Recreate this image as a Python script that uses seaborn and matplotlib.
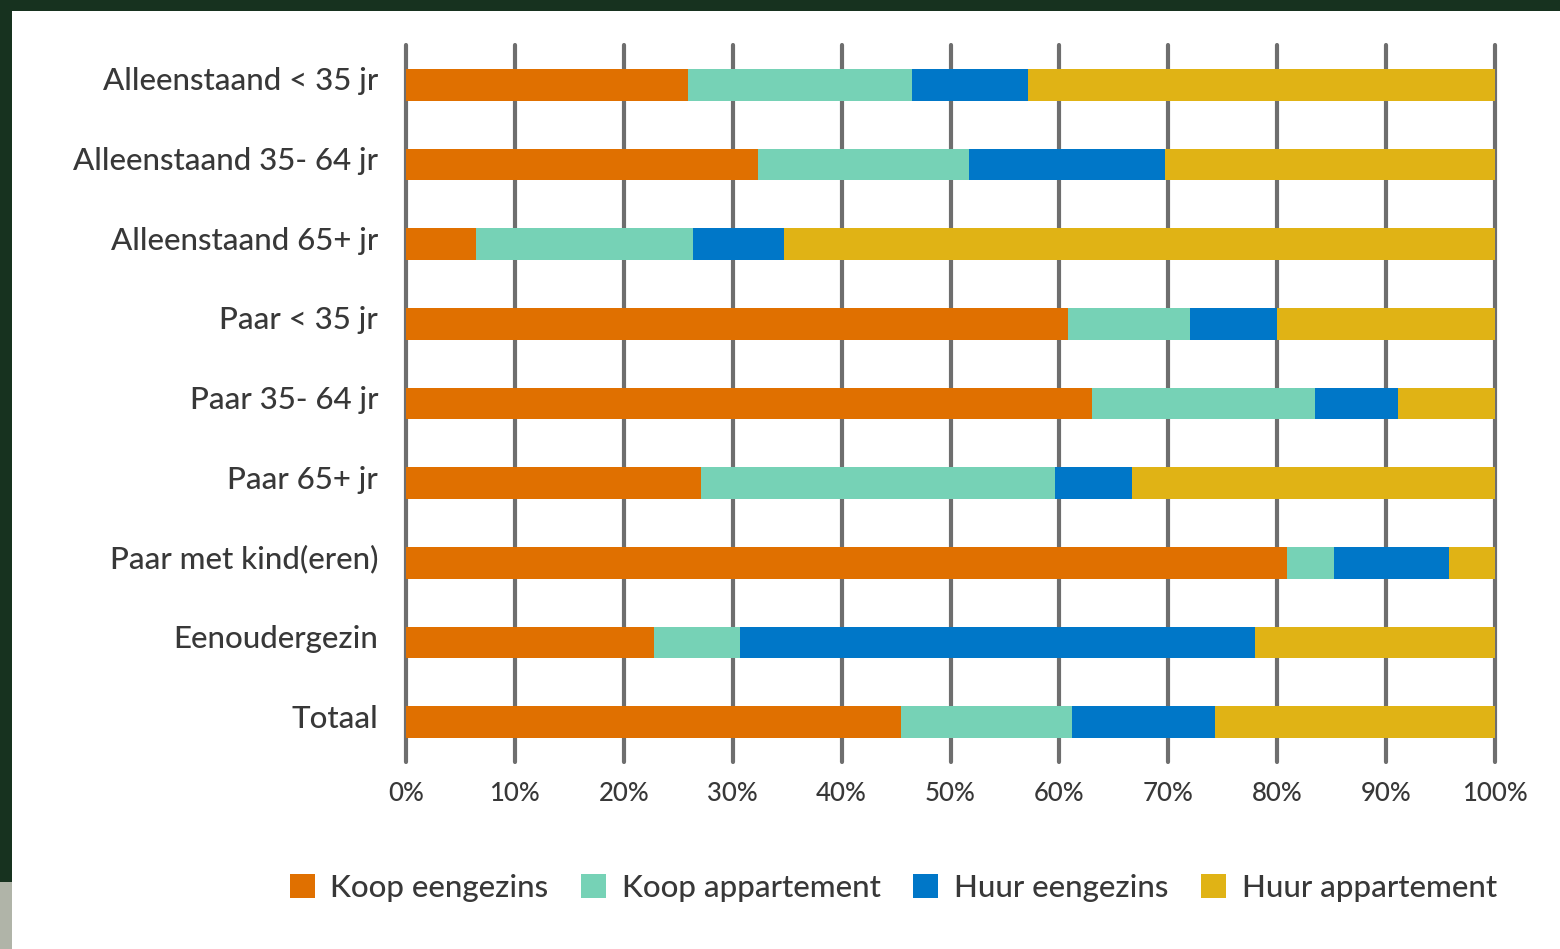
import pandas as pd
import numpy as np
import seaborn as sns
import matplotlib.pyplot as plt
from matplotlib.patches import Rectangle, Patch
from matplotlib.transforms import ScaledTranslation

# Data (shares in %)
categories = ["Alleenstaand < 35 jr", "Alleenstaand 35- 64 jr", "Alleenstaand 65+ jr",
              "Paar < 35 jr", "Paar 35- 64 jr", "Paar 65+ jr",
              "Paar met kind(eren)", "Eenoudergezin", "Totaal"]
koop_eengezins = [25.9, 32.3, 6.4, 60.8, 63.0, 27.1, 80.9, 22.8, 45.5]
koop_appartement = [20.6, 19.4, 20.0, 11.2, 20.5, 32.5, 4.3, 7.9, 15.7]
huur_eengezins = [10.6, 18.0, 8.3, 8.0, 7.6, 7.1, 10.6, 47.3, 13.1]
huur_appartement = [42.9, 30.3, 65.3, 20.0, 8.9, 33.3, 4.2, 22.0, 25.7]
series = ["Koop eengezins", "Koop appartement", "Huur eengezins", "Huur appartement"]
colors = ["#e07000", "#76d2b6", "#0077c8", "#e0b315"]
xticks = [0, 10, 20, 30, 40, 50, 60, 70, 80, 90, 100]

df = pd.DataFrame({"cat": categories,
                   series[0]: koop_eengezins, series[1]: koop_appartement,
                   series[2]: huur_eengezins, series[3]: huur_appartement})
cum = df[series].cumsum(axis=1)

text_col = "#383838"
sns.set_theme(style="white")
plt.rcParams["font.family"] = ["Lato", "DejaVu Sans"]

W, H = 1560, 949
fig = plt.figure(figsize=(W / 100, H / 100), dpi=100, facecolor="white")
ax = fig.add_axes([406 / W, 1 - 762 / H, (1495 - 406) / W, (762 - 45) / H])

# stacked bars: draw cumulative totals from the back to the front
for s, c in reversed(list(zip(series, colors))):
    sns.barplot(x=cum[s], y=df["cat"], orient="h", color=c, saturation=1,
                width=0.4, linewidth=0, ax=ax, zorder=3)

ax.set_xlim(0, 100)
ax.set_ylim(8.5, -0.5)
ax.set_xticks(xticks)
ax.set_xticklabels([f"{t}%" for t in xticks], fontsize=18.5, color=text_col,
                   fontweight="medium")
ax.set_yticklabels(categories, fontsize=22.5, color=text_col, fontweight="medium")
ax.tick_params(axis="y", length=0, pad=20)
ax.tick_params(axis="x", length=0, pad=14)
# labels sit a little above the bar centres in the original
shift = ScaledTranslation(0, 6 / 100, fig.dpi_scale_trans)
for lab in ax.get_yticklabels():
    lab.set_transform(lab.get_transform() + shift)
ax.set_xlabel("")
ax.set_ylabel("")
for sp in ax.spines.values():
    sp.set_visible(False)
ax.set_axisbelow(True)
ax.xaxis.grid(True, color="#6e6e6e", linewidth=3)
for gl in ax.get_xgridlines():
    gl.set_clip_on(False)

handles = [Patch(facecolor=c, edgecolor="none") for c in colors]
fig.legend(handles, series, loc="center right", bbox_to_anchor=(1497 / W, 1 - 888 / H),
           ncol=4, frameon=False, handlelength=0.8, handleheight=0.8,
           handletextpad=0.5, columnspacing=1.05, labelcolor=text_col,
           borderpad=0, borderaxespad=0,
           prop={"size": 22.5, "weight": "medium"})

# dark frame around the picture
fig.patches.append(Rectangle((0, 1 - 11 / H), 1, 11 / H, transform=fig.transFigure,
                             facecolor="#17321f", edgecolor="none", zorder=10))
fig.patches.append(Rectangle((0, 1 - 882 / H), 12 / W, 882 / H, transform=fig.transFigure,
                             facecolor="#17321f", edgecolor="none", zorder=10))
fig.patches.append(Rectangle((0, 0), 12 / W, 1 - 882 / H, transform=fig.transFigure,
                             facecolor="#b0b4a8", edgecolor="none", zorder=10))

fig.savefig("out.png", dpi=100, facecolor="white")
